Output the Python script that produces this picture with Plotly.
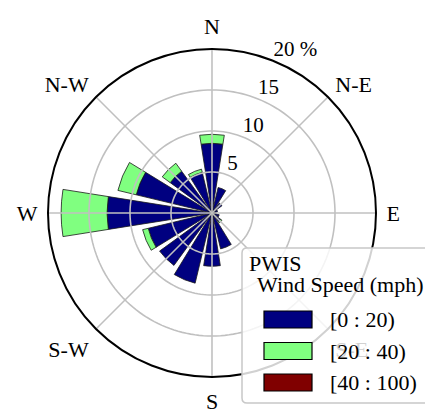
import plotly.graph_objects as go

# ---- data ----
directions = [0, 22.5, 45, 67.5, 90, 112.5, 135, 157.5,
              180, 202.5, 225, 247.5, 270, 292.5, 315, 337.5]
speed_0_20 = [8.5, 3.2, 1.5, 0.7, 0.5, 0.9, 1.3, 4.5,
              6.5, 8.8, 7.9, 8.0, 12.8, 9.5, 6.3, 5.1]
speed_20_40 = [1.1, 0, 0, 0, 0, 0, 0.2, 0,
               0, 0, 0, 0.7, 5.6, 2.3, 1.2, 0.4]
speed_40_100 = [0] * 16
bin_labels = ["[0 : 20)", "[20 : 40)", "[40 : 100)"]
bin_colors = ["#000080", "#80FF80", "#800000"]
compass_vals = [0, 45, 90, 135, 180, 225, 270, 315]
compass_text = ["N", "N-E", "E", "S-E", "S", "S-W", "W", "N-W"]
radial_vals = [5, 10, 15, 20]
radial_text = ["5", "10", "15", "20 %"]
legend_title = "PWIS"
legend_subtitle = "Wind Speed (mph)"

W, H = 425, 410
FONT = "Liberation Serif, Tinos, Times New Roman, DejaVu Serif, serif"
GRID = "#c0c0c0"

fig = go.Figure()
for vals, lab, col in zip([speed_0_20, speed_20_40, speed_40_100], bin_labels, bin_colors):
    fig.add_trace(go.Barpolar(
        r=vals, theta=directions, width=18, name=lab,
        marker=dict(color=col, line=dict(color="#1a1a1a", width=0.8)),
        showlegend=False,
    ))

# grid drawn over the bars (as in the reference)
circle_theta = [i * 2 for i in range(181)]
for rv in radial_vals[:-1]:
    fig.add_trace(go.Scatterpolar(r=[rv] * len(circle_theta), theta=circle_theta,
                                  mode="lines", line=dict(color=GRID, width=1.6),
                                  hoverinfo="skip", showlegend=False))
for tv in compass_vals:
    fig.add_trace(go.Scatterpolar(r=[0, radial_vals[-1]], theta=[tv, tv],
                                  mode="lines", line=dict(color=GRID, width=1.6),
                                  hoverinfo="skip", showlegend=False))

# radial tick labels, placed through the polar scale
fig.add_trace(go.Scatterpolar(r=radial_vals, theta=[22] * len(radial_vals),
                              text=radial_text, mode="text", textposition="top right",
                              textfont=dict(family=FONT, size=21, color="black"),
                              cliponaxis=False, hoverinfo="skip", showlegend=False))

cx, cy, R = 212, 213, 164
fig.update_layout(
    width=W, height=H,
    margin=dict(l=0, r=0, t=0, b=0),
    paper_bgcolor="white",
    font=dict(family=FONT, size=22, color="black"),
    showlegend=False,
    polar=dict(
        domain=dict(x=[(cx - R) / W, (cx + R) / W], y=[1 - (cy + R) / H, 1 - (cy - R) / H]),
        bgcolor="white",
        barmode="stack",
        angularaxis=dict(rotation=90, direction="clockwise", tickmode="array",
                         tickvals=compass_vals, ticktext=compass_text,
                         showgrid=False, showline=True, linecolor="black", linewidth=2,
                         ticks="outside", ticklen=5, tickcolor="rgba(0,0,0,0)",
                         tickfont=dict(family=FONT, size=22)),
        radialaxis=dict(range=[0, 20], tickmode="array", tickvals=radial_vals,
                        showticklabels=False, showgrid=False, showline=False, ticks=""),
    ),
)

# legend box (manual, to match the reference's large swatches)
def px(x):
    return x / W

def py(y):
    return 1 - y / H

def rounded_box(x0, y0, x1, y1, rad):
    rx, ry = rad / W, rad / H
    X0, X1, Y0, Y1 = px(x0), px(x1), py(y1), py(y0)  # Y0 bottom, Y1 top
    return (f"M{X0 + rx},{Y1} L{X1 - rx},{Y1} Q{X1},{Y1} {X1},{Y1 - ry} "
            f"L{X1},{Y0 + ry} Q{X1},{Y0} {X1 - rx},{Y0} L{X0 + rx},{Y0} "
            f"Q{X0},{Y0} {X0},{Y0 + ry} L{X0},{Y1 - ry} Q{X0},{Y1} {X0 + rx},{Y1} Z")

shapes = [dict(type="path", xref="paper", yref="paper", layer="above",
               path=rounded_box(242, 248, 432, 403, 5),
               line=dict(color="#c8c8c8", width=1.5), fillcolor="rgba(255,255,255,0.82)")]
annotations = [
    dict(text=legend_title, x=px(247), y=py(263), xanchor="left", yanchor="middle"),
    dict(text=legend_subtitle, x=px(255), y=py(284), xanchor="left", yanchor="middle"),
]
row_y = [319.5, 351, 382.5]
for lab, col, yy in zip(bin_labels, bin_colors, row_y):
    shapes.append(dict(type="rect", xref="paper", yref="paper", layer="above",
                       x0=px(264), x1=px(312), y0=py(yy + 8.5), y1=py(yy - 8.5),
                       line=dict(color="black", width=1.2), fillcolor=col))
    annotations.append(dict(text=lab, x=px(328), y=py(yy), xanchor="left", yanchor="middle"))
for a in annotations:
    a.update(xref="paper", yref="paper", showarrow=False,
             font=dict(family=FONT, size=22, color="black"))
fig.update_layout(shapes=shapes, annotations=annotations)

fig.write_html("out.html")
